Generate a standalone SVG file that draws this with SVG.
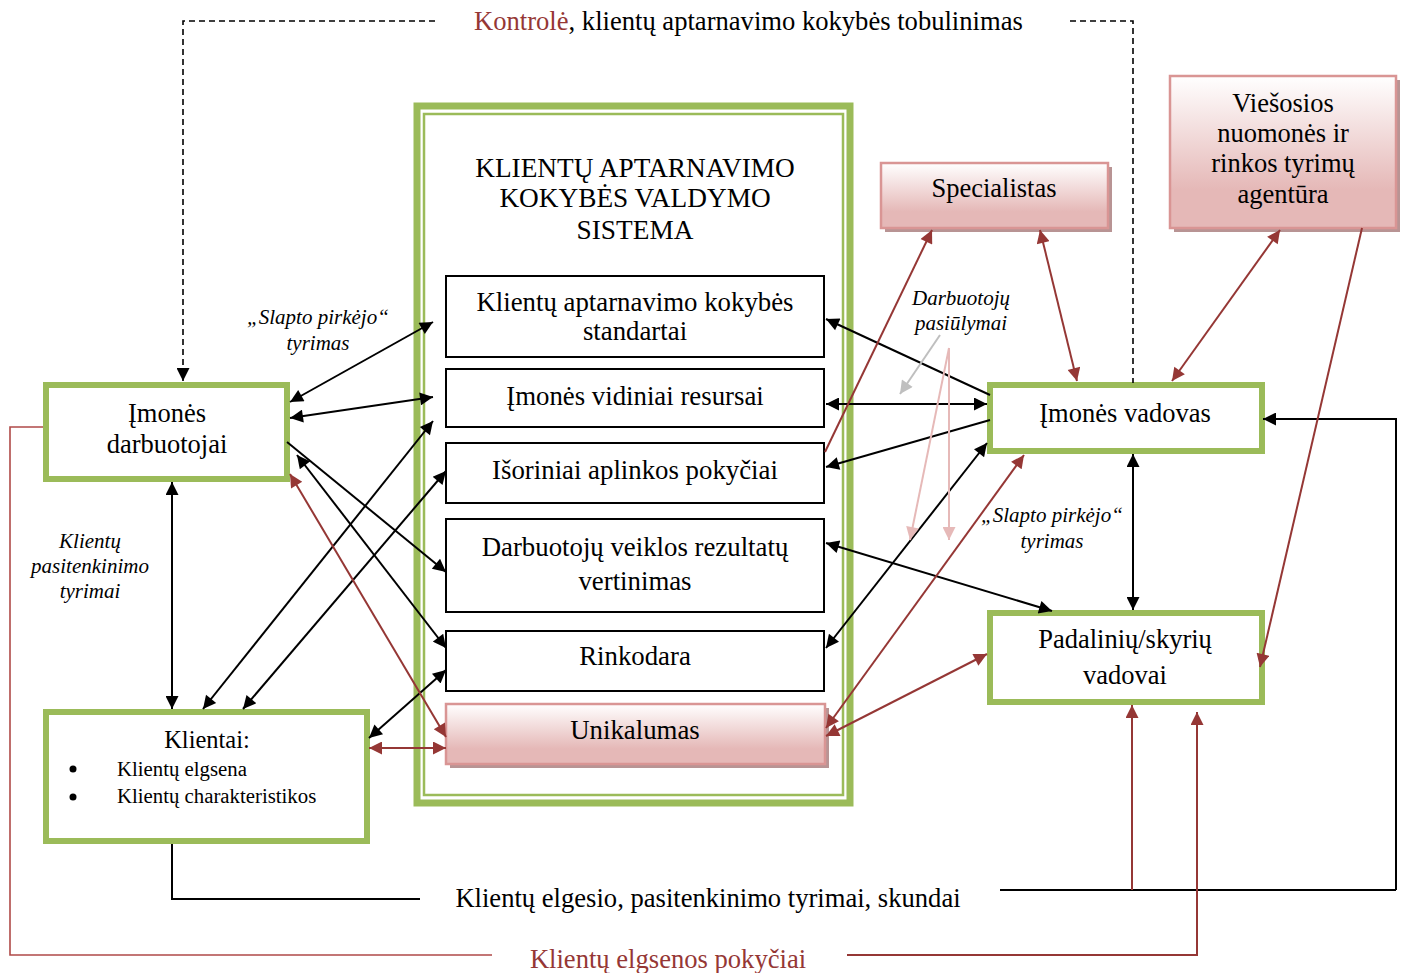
<svg xmlns="http://www.w3.org/2000/svg" width="1403" height="973" viewBox="0 0 1403 973">
  <style>
    text { font-family: "Liberation Serif", "Times New Roman", serif; fill: #000; }
    .c { text-anchor: middle; }
    .it { font-style: italic; font-size: 21px; }
    .green { fill: #fff; stroke: #9BBB59; stroke-width: 6; }
    .inner { fill: #fff; stroke: #000; stroke-width: 2; }
    .pink { fill: url(#pg); stroke: #D99594; stroke-width: 2.5; }
    .shadow { fill: #B89494; }
    .blk { fill: none; stroke: #000; stroke-width: 2; }
    .red { fill: none; stroke: #953735; stroke-width: 2; }
    .dash { fill: none; stroke: #000; stroke-width: 1.6; stroke-dasharray: 6 4; }
  </style>
  <defs>
    <linearGradient id="pg" x1="0" y1="0" x2="0" y2="1">
      <stop offset="0" stop-color="#FFFFFF"/>
      <stop offset="0.75" stop-color="#E5B8B7"/>
      <stop offset="1" stop-color="#E5B8B7"/>
    </linearGradient>
    <marker id="hb" viewBox="0 0 10 10" refX="10" refY="5" markerWidth="15" markerHeight="13" markerUnits="userSpaceOnUse" orient="auto-start-reverse">
      <path d="M0,0 L10,5 L0,10 z" fill="#000"/>
    </marker>
    <marker id="hr" viewBox="0 0 10 10" refX="10" refY="5" markerWidth="15" markerHeight="13" markerUnits="userSpaceOnUse" orient="auto-start-reverse">
      <path d="M0,0 L10,5 L0,10 z" fill="#953735"/>
    </marker>
    <marker id="hp" viewBox="0 0 10 10" refX="10" refY="5" markerWidth="15" markerHeight="13" markerUnits="userSpaceOnUse" orient="auto">
      <path d="M0,0 L10,5 L0,10 z" fill="#E6B9B8"/>
    </marker>
    <marker id="hg" viewBox="0 0 10 10" refX="10" refY="5" markerWidth="15" markerHeight="13" markerUnits="userSpaceOnUse" orient="auto">
      <path d="M0,0 L10,5 L0,10 z" fill="#BFBFBF"/>
    </marker>
  </defs>

  <rect width="1403" height="973" fill="#fff"/>

  <!-- central system frame with its sub-blocks -->
  <g id="system">
    <rect x="417" y="106" width="433" height="697" fill="#fff" stroke="#9BBB59" stroke-width="7"/>
    <rect x="424" y="114" width="419" height="681" fill="none" stroke="#9BBB59" stroke-width="2.5"/>
    <text class="c" x="635" y="177" font-size="27.3">KLIENTŲ APTARNAVIMO</text>
    <text class="c" x="635" y="207" font-size="27.3">KOKYBĖS VALDYMO</text>
    <text class="c" x="635" y="239" font-size="27.3">SISTEMA</text>
  </g>
  <g id="standartai">
    <rect class="inner" x="446" y="276" width="378" height="81"/>
    <text class="c" x="635" y="311" font-size="26.8">Klientų aptarnavimo kokybės</text>
    <text class="c" x="635" y="340" font-size="26.8">standartai</text>
  </g>
  <g id="resursai">
    <rect class="inner" x="446" y="369" width="378" height="58"/>
    <text class="c" x="635" y="405" font-size="26.8">Įmonės vidiniai resursai</text>
  </g>
  <g id="pokyciai">
    <rect class="inner" x="446" y="443" width="378" height="60"/>
    <text class="c" x="635" y="479" font-size="26.8">Išoriniai aplinkos pokyčiai</text>
  </g>
  <g id="vertinimas">
    <rect class="inner" x="446" y="519" width="378" height="93"/>
    <text class="c" x="635" y="556" font-size="26.8">Darbuotojų veiklos rezultatų</text>
    <text class="c" x="635" y="590" font-size="26.8">vertinimas</text>
  </g>
  <g id="rinkodara">
    <rect class="inner" x="446" y="631" width="378" height="60"/>
    <text class="c" x="635" y="665" font-size="26.8">Rinkodara</text>
  </g>
  <g id="unikalumas">
    <rect class="shadow" x="450" y="708" width="379" height="60"/>
    <rect class="pink" x="446" y="704" width="379" height="60"/>
    <text class="c" x="635" y="739" font-size="26.8">Unikalumas</text>
  </g>

  <!-- outer actors -->
  <g id="darbuotojai">
    <rect class="green" x="46" y="385" width="241" height="94"/>
    <text class="c" x="167" y="422" font-size="26.5">Įmonės</text>
    <text class="c" x="167" y="453" font-size="26.5">darbuotojai</text>
  </g>
  <g id="klientai">
    <rect class="green" x="46" y="712" width="321" height="129"/>
    <text class="c" x="207" y="748" font-size="24.5">Klientai:</text>
    <circle cx="73" cy="769" r="3.5" fill="#000"/>
    <circle cx="73" cy="797" r="3.5" fill="#000"/>
    <text x="117" y="776" font-size="20.8">Klientų elgsena</text>
    <text x="117" y="803" font-size="20.8">Klientų charakteristikos</text>
  </g>
  <g id="vadovas">
    <rect class="green" x="990" y="385" width="272" height="66"/>
    <text class="c" x="1125" y="422" font-size="26.5">Įmonės vadovas</text>
  </g>
  <g id="padaliniai">
    <rect class="green" x="990" y="613" width="272" height="89"/>
    <text class="c" x="1125" y="648" font-size="26.5">Padalinių/skyrių</text>
    <text class="c" x="1125" y="684" font-size="26.5">vadovai</text>
  </g>
  <g id="specialistas">
    <rect class="shadow" x="885" y="167" width="227" height="65"/>
    <rect class="pink" x="881" y="163" width="227" height="65"/>
    <text class="c" x="994" y="197" font-size="26.5">Specialistas</text>
  </g>
  <g id="agentura">
    <rect class="shadow" x="1174" y="80" width="226" height="152"/>
    <rect class="pink" x="1170" y="76" width="226" height="152"/>
    <text class="c" x="1283" y="112" font-size="26.5">Viešosios</text>
    <text class="c" x="1283" y="142" font-size="26.5">nuomonės ir</text>
    <text class="c" x="1283" y="172" font-size="26.5">rinkos tyrimų</text>
    <text class="c" x="1283" y="203" font-size="26.5">agentūra</text>
  </g>

  <!-- connectors -->
  <g id="connectors">
    <!-- black two-way links -->
    <g class="blk" marker-start="url(#hb)" marker-end="url(#hb)">
      <path d="M290,402 L433,322"/>
      <path d="M290,418 L433,397"/>
      <path d="M203,709 L433,421"/>
      <path d="M243,709 L446,471"/>
      <path d="M297,455 L446,648"/>
      <path d="M369,738 L446,670"/>
      <path d="M172,482 L172,709"/>
      <path d="M987,404 L826,404"/>
      <path d="M826,648 L987,443"/>
      <path d="M826,543 L1052,611"/>
      <path d="M1133,454 L1133,610"/>
    </g>
    <!-- black one-way links -->
    <g class="blk" marker-end="url(#hb)">
      <path d="M287,442 L446,572"/>
      <path d="M990,395 L826,319"/>
      <path d="M990,420 L826,467"/>
      <path d="M1396,890 L1396,419 L1263,419"/>
    </g>
    <path class="blk" d="M172,844 L172,899 L420,899"/>
    <path class="blk" d="M1000,890 L1396,890"/>
    <!-- control loop -->
    <path class="dash" d="M435,21 L183,21 L183,381" marker-end="url(#hb)"/>
    <path class="dash" d="M1070,21 L1133,21 L1133,383"/>
    <!-- red two-way links -->
    <g class="red" marker-start="url(#hr)" marker-end="url(#hr)">
      <path d="M290,474 L446,737"/>
      <path d="M369,748 L446,748"/>
      <path d="M826,728 L1024,455"/>
      <path d="M826,736 L987,654"/>
      <path d="M1040,230 L1077,381"/>
      <path d="M1280,230 L1172,381"/>
    </g>
    <!-- red one-way links -->
    <g class="red" marker-end="url(#hr)">
      <path d="M825,452 L932,230"/>
      <path d="M1362,228 L1260,667"/>
      <path d="M1132,890 L1132,705"/>
      <path d="M847,955 L1197,955 L1197,712"/>
    </g>
    <path d="M43,427 L10,427 L10,955 L492,955" fill="none" stroke="#B04A48" stroke-width="1.6"/>
    <!-- staff proposals -->
    <path d="M940,335 L900,394" fill="none" stroke="#BFBFBF" stroke-width="2" marker-end="url(#hg)"/>
    <path d="M949,348 L910,540" fill="none" stroke="#E6B9B8" stroke-width="2" marker-end="url(#hp)"/>
    <path d="M949,348 L949,540" fill="none" stroke="#E6B9B8" stroke-width="2" marker-end="url(#hp)"/>
  </g>

  <!-- free labels -->
  <g id="labels">
    <text x="474" y="30" font-size="26.6"><tspan fill="#953735" style="fill:#953735">Kontrolė</tspan>, klientų aptarnavimo kokybės tobulinimas</text>
    <text class="c" x="708" y="907" font-size="26.6">Klientų elgesio, pasitenkinimo tyrimai, skundai</text>
    <text class="c" x="668" y="968" font-size="26.6" style="fill:#953735">Klientų elgsenos pokyčiai</text>
    <text class="c it" x="318" y="324">„Slapto pirkėjo“</text>
    <text class="c it" x="318" y="350">tyrimas</text>
    <text class="c it" x="1052" y="522">„Slapto pirkėjo“</text>
    <text class="c it" x="1052" y="548">tyrimas</text>
    <text class="c it" x="961" y="305">Darbuotojų</text>
    <text class="c it" x="961" y="330">pasiūlymai</text>
    <text class="c it" x="90" y="548">Klientų</text>
    <text class="c it" x="90" y="573">pasitenkinimo</text>
    <text class="c it" x="90" y="598">tyrimai</text>
  </g>
</svg>
